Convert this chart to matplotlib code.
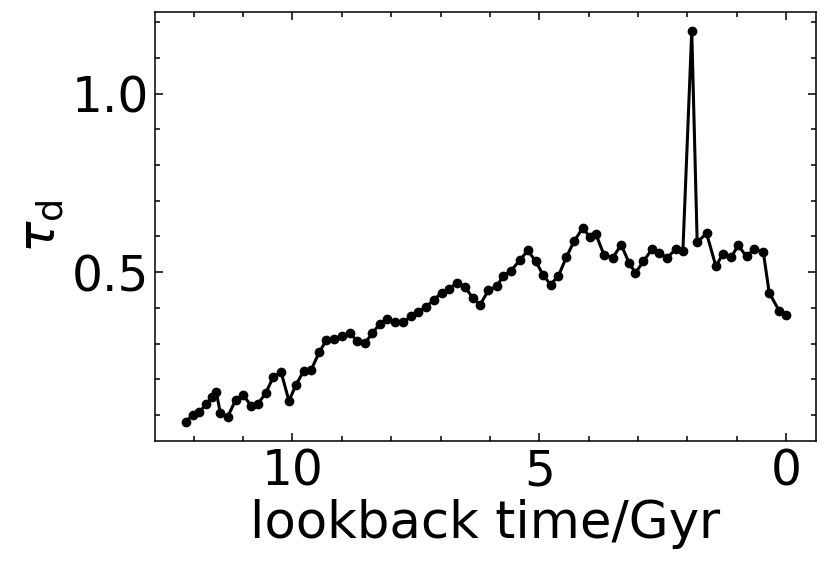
import numpy as np
import matplotlib
matplotlib.use("Agg")
import matplotlib.pyplot as plt
import matplotlib.ticker as mticker

# ── Data ───────────────────────────────────────────────────────────────────────
lookback_gyr = [
    12.16, 12.02, 11.89, 11.75, 11.62, 11.54, 11.46, 11.31, 11.15, 11.00,
    10.84, 10.70, 10.54, 10.39, 10.23, 10.07, 9.93, 9.77, 9.62, 9.46,
    9.31, 9.16, 9.00, 8.84, 8.69, 8.53, 8.38, 8.23, 8.08, 7.92,
    7.76, 7.59, 7.46, 7.30, 7.13, 6.97, 6.82, 6.66, 6.51, 6.34,
    6.20, 6.03, 5.86, 5.73, 5.58, 5.39, 5.23, 5.07, 4.92, 4.77,
    4.61, 4.45, 4.29, 4.12, 3.97, 3.85, 3.69, 3.51, 3.34, 3.18,
    3.05, 2.89, 2.71, 2.57, 2.41, 2.23, 2.09, 1.91, 1.80, 1.61,
    1.42, 1.28, 1.11, 0.97, 0.80, 0.65, 0.46, 0.34, 0.14, 0.00,
]
tau_d = [
    0.081, 0.100, 0.107, 0.130, 0.151, 0.163, 0.104, 0.095, 0.142, 0.156,
    0.126, 0.131, 0.161, 0.206, 0.220, 0.139, 0.184, 0.223, 0.226, 0.275,
    0.310, 0.314, 0.320, 0.329, 0.308, 0.301, 0.329, 0.355, 0.369, 0.359,
    0.359, 0.377, 0.388, 0.402, 0.423, 0.443, 0.454, 0.471, 0.459, 0.427,
    0.408, 0.449, 0.460, 0.490, 0.503, 0.534, 0.561, 0.530, 0.492, 0.465,
    0.490, 0.542, 0.588, 0.623, 0.599, 0.606, 0.549, 0.540, 0.577, 0.526,
    0.498, 0.530, 0.566, 0.554, 0.540, 0.565, 0.558, 1.176, 0.584, 0.609,
    0.516, 0.552, 0.542, 0.575, 0.544, 0.565, 0.556, 0.442, 0.392, 0.379,
]

fig = plt.figure(figsize=(8.3, 5.66), dpi=100)
ax = fig.add_axes([0.187, 0.221, 0.7957, 0.757])

ax.plot(lookback_gyr, tau_d, color="black", linewidth=2.2,
        marker="o", markersize=6)

ax.set_xlim(12.78, -0.60)
ax.set_ylim(0.027, 1.228)

ax.xaxis.set_major_locator(mticker.MultipleLocator(5))
ax.xaxis.set_minor_locator(mticker.MultipleLocator(1))
ax.yaxis.set_major_locator(mticker.MultipleLocator(0.5))
ax.yaxis.set_minor_locator(mticker.MultipleLocator(0.1))

ax.tick_params(which="both", direction="in", top=True, right=True,
               labelsize=35, width=1.1, pad=4.5)
ax.tick_params(which="major", length=6)
ax.tick_params(which="minor", length=3.5)
for sp in ax.spines.values():
    sp.set_linewidth(1.1)

ax.set_xlabel("lookback time/Gyr", fontsize=37, labelpad=2.5)
ax.set_ylabel(r"$\tau_{\rm d}$", fontsize=37.5, labelpad=4)

fig.savefig("out.png", dpi=100)
